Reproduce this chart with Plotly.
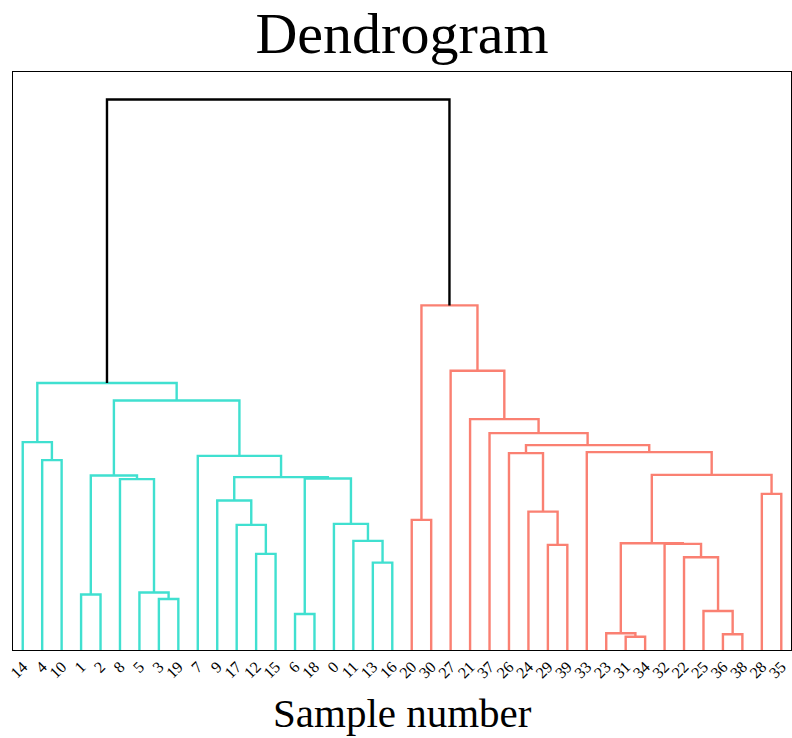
import plotly.graph_objects as go

# Hierarchical clustering of 40 samples, written as a linkage table:
# row k joins clusters merge_left[k] and merge_right[k] at merge_height[k];
# ids 0..39 are samples, id 40 + k is the cluster created by row k.
n_samples = 40
merge_left = [31, 36, 23, 6, 25, 3, 1, 5, 13, 22, 12, 29, 32, 42, 11, 17, 0, 20, 24, 9,
              28, 8, 43, 59, 46, 53, 4, 7, 26, 33, 68, 14, 37, 21, 64, 71, 27, 57, 75]
merge_right = [34, 38, 40, 18, 41, 19, 2, 45, 16, 44, 15, 39, 49, 52, 48, 50, 54, 30, 51, 55,
               35, 47, 56, 62, 61, 60, 10, 63, 58, 65, 69, 66, 70, 72, 67, 74, 73, 76, 77]
merge_height = [0.133, 0.157, 0.167, 0.360, 0.390, 0.510, 0.555, 0.575, 0.873, 0.927,
                0.960, 1.050, 1.060, 1.067, 1.090, 1.250, 1.260, 1.300, 1.383, 1.493,
                1.560, 1.707, 1.713, 1.727, 1.743, 1.750, 1.897, 1.940, 1.967, 1.977,
                2.047, 2.077, 2.167, 2.307, 2.493, 2.667, 2.790, 3.443, 5.500]

cluster_colors = ["#40E0D0", "#FA8072"]
above_color = "black"
color_threshold = 0.7 * max(merge_height)

children = {n_samples + k: (merge_left[k], merge_right[k]) for k in range(len(merge_height))}
height = {n_samples + k: merge_height[k] for k in range(len(merge_height))}
root = n_samples + len(merge_height) - 1


def leaves(node):
    if node < n_samples:
        return [node]
    a, b = children[node]
    return leaves(a) + leaves(b)


leaf_order = leaves(root)
leaf_pos = {s: 5 + 10 * i for i, s in enumerate(leaf_order)}


def xpos(node):
    if node < n_samples:
        return leaf_pos[node]
    a, b = children[node]
    return (xpos(a) + xpos(b)) / 2


def hgt(node):
    return 0.0 if node < n_samples else height[node]


# assign a colour to every link: subtrees under the threshold share one colour
link_color = {}
palette_idx = [0]


def paint(node, color=None):
    if node < n_samples:
        return
    if color is None and height[node] < color_threshold:
        color = cluster_colors[palette_idx[0] % len(cluster_colors)]
        palette_idx[0] += 1
    link_color[node] = color if color is not None else above_color
    a, b = children[node]
    paint(a, color)
    paint(b, color)


paint(root)

fig = go.Figure()
for node, (a, b) in children.items():
    xa, xb = xpos(a), xpos(b)
    h = height[node]
    fig.add_trace(go.Scatter(
        x=[xa, xa, xb, xb],
        y=[hgt(a), h, h, hgt(b)],
        mode="lines",
        line=dict(color=link_color[node], width=2.4),
        hoverinfo="skip",
        showlegend=False,
    ))

serif = "Liberation Serif"
fig.update_layout(
    width=792,
    height=738,
    margin=dict(l=13, r=1, t=72, b=88),
    paper_bgcolor="white",
    plot_bgcolor="white",
    title=dict(
        text="Dendrogram",
        font=dict(family=serif, size=58, color="black"),
        x=0.5, xref="paper",
        y=1 - 33 / 738, yref="container", yanchor="middle",
    ),
    xaxis=dict(
        range=[0, 10 * n_samples],
        tickvals=[leaf_pos[s] for s in leaf_order],
        ticktext=[str(s) for s in leaf_order],
        tickangle=-45,
        tickfont=dict(family=serif, size=16, color="black"),
        ticks="",
        showgrid=False,
        zeroline=False,
        showline=True, mirror=True, linecolor="black", linewidth=1.3,
    ),
    yaxis=dict(
        range=[0, 1.05 * max(merge_height)],
        showticklabels=False,
        ticks="",
        showgrid=False,
        zeroline=False,
        showline=True, mirror=True, linecolor="black", linewidth=1.3,
    ),
    annotations=[dict(
        text="Sample number",
        xref="paper", yref="paper",
        x=0.5, y=-0.109, yanchor="middle",
        showarrow=False,
        font=dict(family=serif, size=41, color="black"),
    )],
)

fig.write_html("out.html")
